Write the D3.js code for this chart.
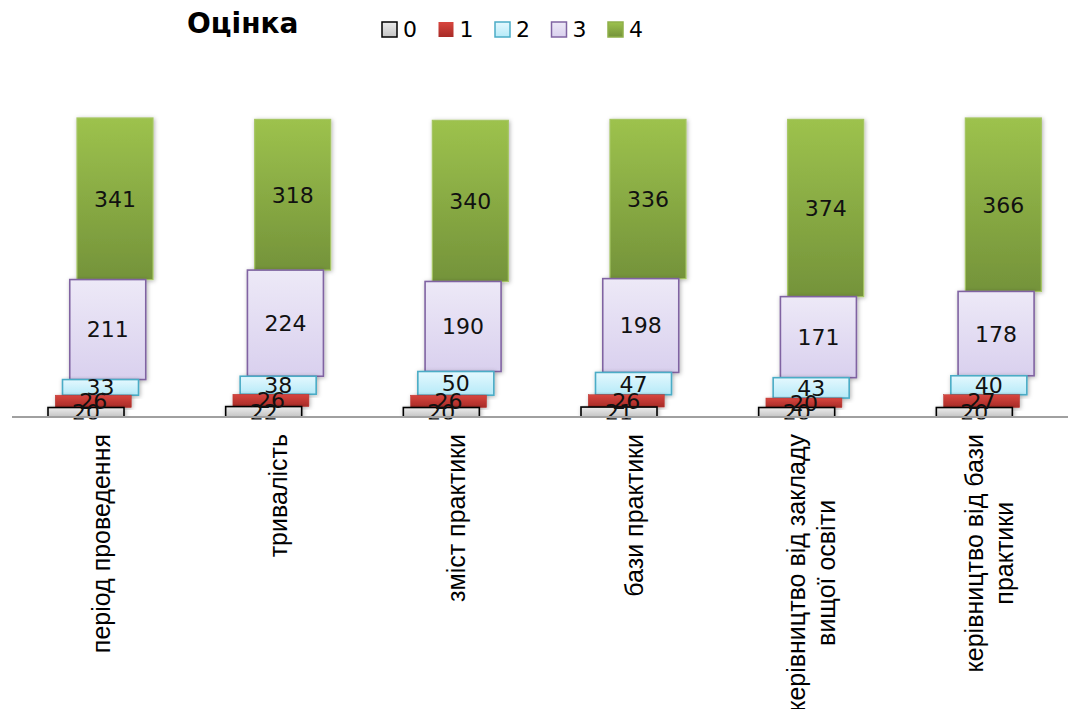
<!DOCTYPE html>
<html>
<head>
<meta charset="utf-8">
<script src="https://cdn.jsdelivr.net/npm/d3@7/dist/d3.min.js"></script>
<style>
  html, body { margin: 0; padding: 0; background: #fff; }
  svg { display: block; }
</style>
</head>
<body>
<svg id="chart" width="1070" height="709"></svg>
<script>
// ---- data ----
const categories = [
  "період проведення",
  "тривалість",
  "зміст практики",
  "бази практики",
  "керівництво від закладу\nвищої освіти",
  "керівництво від бази\nпрактики"
];
const seriesNames = ["0", "1", "2", "3", "4"];
const s0 = [20, 22, 20, 21, 20, 20];
const s1 = [26, 26, 26, 26, 20, 27];
const s2 = [33, 38, 50, 47, 43, 40];
const s3 = [211, 224, 190, 198, 171, 178];
const s4 = [341, 318, 340, 336, 374, 366];
const seriesValues = [s0, s1, s2, s3, s4];
const chartTitle = "Оцінка";

// ---- styles ----
const styles = [
  { top: "#ececec", bottom: "#c4c4c4", stroke: "#000000", sw: 1.6 },
  { top: "#d8463f", bottom: "#a82b27", stroke: "#b83530", sw: 0.5 },
  { top: "#e4f8fe", bottom: "#b6eaf8", stroke: "#4bacc6", sw: 1.6 },
  { top: "#ede9f7", bottom: "#d9d0ee", stroke: "#8064a2", sw: 1.6 },
  { top: "#9dc24d", bottom: "#74933a", stroke: "#a6c664", sw: 1.2 }
];

const table = categories.map((c, i) => {
  const row = { cat: c };
  seriesNames.forEach((s, k) => row[s] = seriesValues[k][i]);
  return row;
});
const stacked = d3.stack().keys(seriesNames)(table);

const svg = d3.select("#chart");
const defs = svg.append("defs");
styles.forEach((st, i) => {
  const g = defs.append("linearGradient").attr("id", "grad" + i)
    .attr("x1", 0).attr("y1", 0).attr("x2", 0).attr("y2", 1);
  g.append("stop").attr("offset", "0%").attr("stop-color", st.top);
  g.append("stop").attr("offset", "100%").attr("stop-color", st.bottom);
});
const f = defs.append("filter").attr("id", "shadow")
  .attr("x", "-20%").attr("y", "-20%").attr("width", "140%").attr("height", "140%");
f.append("feDropShadow").attr("dx", 1).attr("dy", 1).attr("stdDeviation", 2)
  .attr("flood-color", "#000").attr("flood-opacity", 0.3);

const axisY = 417;
defs.append("clipPath").attr("id", "plotclip")
  .append("rect").attr("x", 0).attr("y", 0).attr("width", 1070).attr("height", axisY + 0.5);
defs.append("clipPath").attr("id", "labelclip")
  .append("rect").attr("x", 0).attr("y", 0).attr("width", 1070).attr("height", axisY + 2.5);

// ---- scales ----
const x = d3.scaleBand().domain(categories).range([12, 1078]).padding(0);
const y = d3.scaleLinear().domain([0, 700]).range([axisY, axisY - 700 * 0.4739]);
const off = d3.scaleLinear().domain([0, seriesNames.length - 1]).range([36, 65]);
const barW = 76;

const plot = svg.append("g").attr("clip-path", "url(#plotclip)");

// draw top series first so lower segments sit in front
const order = stacked.slice().reverse();
order.forEach(layer => {
  const k = seriesNames.indexOf(layer.key);
  const st = styles[k];
  plot.append("g").selectAll("rect").data(layer).join("rect")
    .attr("x", d => x(d.data.cat) + off(k))
    .attr("y", d => y(d[1]))
    .attr("width", barW)
    .attr("height", d => y(d[0]) - y(d[1]))
    .attr("fill", `url(#grad${k})`)
    .attr("stroke", st.stroke)
    .attr("stroke-width", st.sw)
    .attr("filter", "url(#shadow)");
});

// value labels
const labels = svg.append("g").attr("clip-path", "url(#labelclip)");
stacked.forEach(layer => {
  const k = seriesNames.indexOf(layer.key);
  labels.append("g").selectAll("text").data(layer).join("text")
    .attr("x", d => x(d.data.cat) + off(k) + barW / 2)
    .attr("y", d => (y(d[0]) + y(d[1])) / 2)
    .attr("dy", "0.36em")
    .attr("text-anchor", "middle")
    .attr("font-family", "DejaVu Sans, Verdana, sans-serif")
    .attr("font-size", 22)
    .attr("fill", "#111")
    .text(d => d[1] - d[0]);
});

// axis line
const xAxis = d3.axisBottom(x).tickSize(0).tickFormat("");
const axG = svg.append("g").attr("transform", `translate(0,${axisY})`).call(xAxis);
axG.select(".domain").attr("stroke", "#a0a0a0").attr("stroke-width", 2)
  .attr("d", "M12,0H1068");

// category labels
const fs = 25, lh = 30;
axG.selectAll(".tick").each(function(d) {
  const lines = d.split("\n");
  d3.select(this).select("text").remove();
  const txt = d3.select(this).append("text")
    .attr("transform", `translate(0,${434 - axisY}) rotate(-90)`)
    .attr("font-family", "Liberation Sans, Arial, sans-serif")
    .attr("font-size", fs)
    .attr("fill", "#000");
  const spans = lines.map((ln, i) => txt.append("tspan")
    .attr("y", 0.35 * fs - (lines.length - 1) * lh / 2 + i * lh)
    .text(ln));
  const lens = spans.map(s => s.node().getComputedTextLength());
  const L = d3.max(lens);
  spans.forEach(s => s.attr("x", -L / 2).attr("text-anchor", "middle"));
});

// title
svg.append("text")
  .attr("x", 187).attr("y", 33)
  .attr("font-family", "DejaVu Sans, Verdana, sans-serif")
  .attr("font-weight", "bold")
  .attr("font-size", 28)
  .attr("fill", "#000")
  .text(chartTitle);

// legend
const legend = svg.append("g");
seriesNames.forEach((s, k) => {
  const gx = 382 + k * 56.5;
  const st = styles[k];
  legend.append("rect")
    .attr("x", gx).attr("y", 22).attr("width", 15).attr("height", 15)
    .attr("fill", `url(#grad${k})`)
    .attr("stroke", k === 1 ? "none" : (k === 4 ? "#8fb04a" : st.stroke))
    .attr("stroke-width", 1.5);
  legend.append("text")
    .attr("x", gx + 21).attr("y", 37)
    .attr("font-family", "DejaVu Sans, Verdana, sans-serif")
    .attr("font-size", 22)
    .attr("fill", "#000")
    .text(s);
});
</script>
</body>
</html>
